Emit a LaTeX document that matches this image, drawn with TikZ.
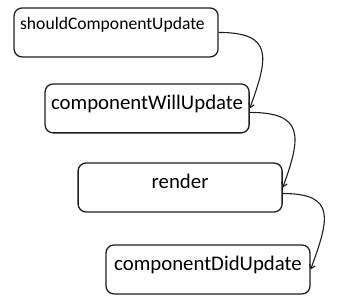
\documentclass[tikz,border=0pt]{standalone}
\usepackage{fontspec}
\setmainfont{Carlito}
\usetikzlibrary{arrows.meta, positioning}
\definecolor{DG}{RGB}{30,30,30}

\begin{document}
\begin{tikzpicture}[
  box/.style={draw=DG, rounded corners=0.28cm, line width=1.3pt,
              minimum width=7.17cm, minimum height=1.72cm,
              font=\fontsize{20.8}{23}\selectfont,
              text height=14pt, text depth=12pt},
  arr/.style={-{Straight Barb[length=4pt,width=6pt]}, line width=1.1pt, draw=DG}
]
\useasboundingbox (0,0) rectangle (12.09,-10.61);

\node[box] (should) at (4.08,-1.14) {};
\node[anchor=base west, inner sep=0pt, font=\fontsize{17.6}{20}\selectfont]
  (shouldtxt) at (0.70,-1.05) {shouldComponentUpdate};
\node[box] (will)   at (5.17,-3.81) {componentWillUpdate};
\node[box] (render) at (6.33,-6.59) {render};
\node[box] (did)    at (7.31,-9.47) {componentDidUpdate};

\draw[arr] (should.east) to[out=0, in=70, looseness=1.7] (will.east);
\draw[arr] ([yshift=-4pt]will.east) to[out=0, in=70, looseness=1.7] (render.east);
\draw[arr] ([yshift=-6pt]render.east) to[out=0, in=70, looseness=1.7] (did.east);
\end{tikzpicture}
\end{document}
